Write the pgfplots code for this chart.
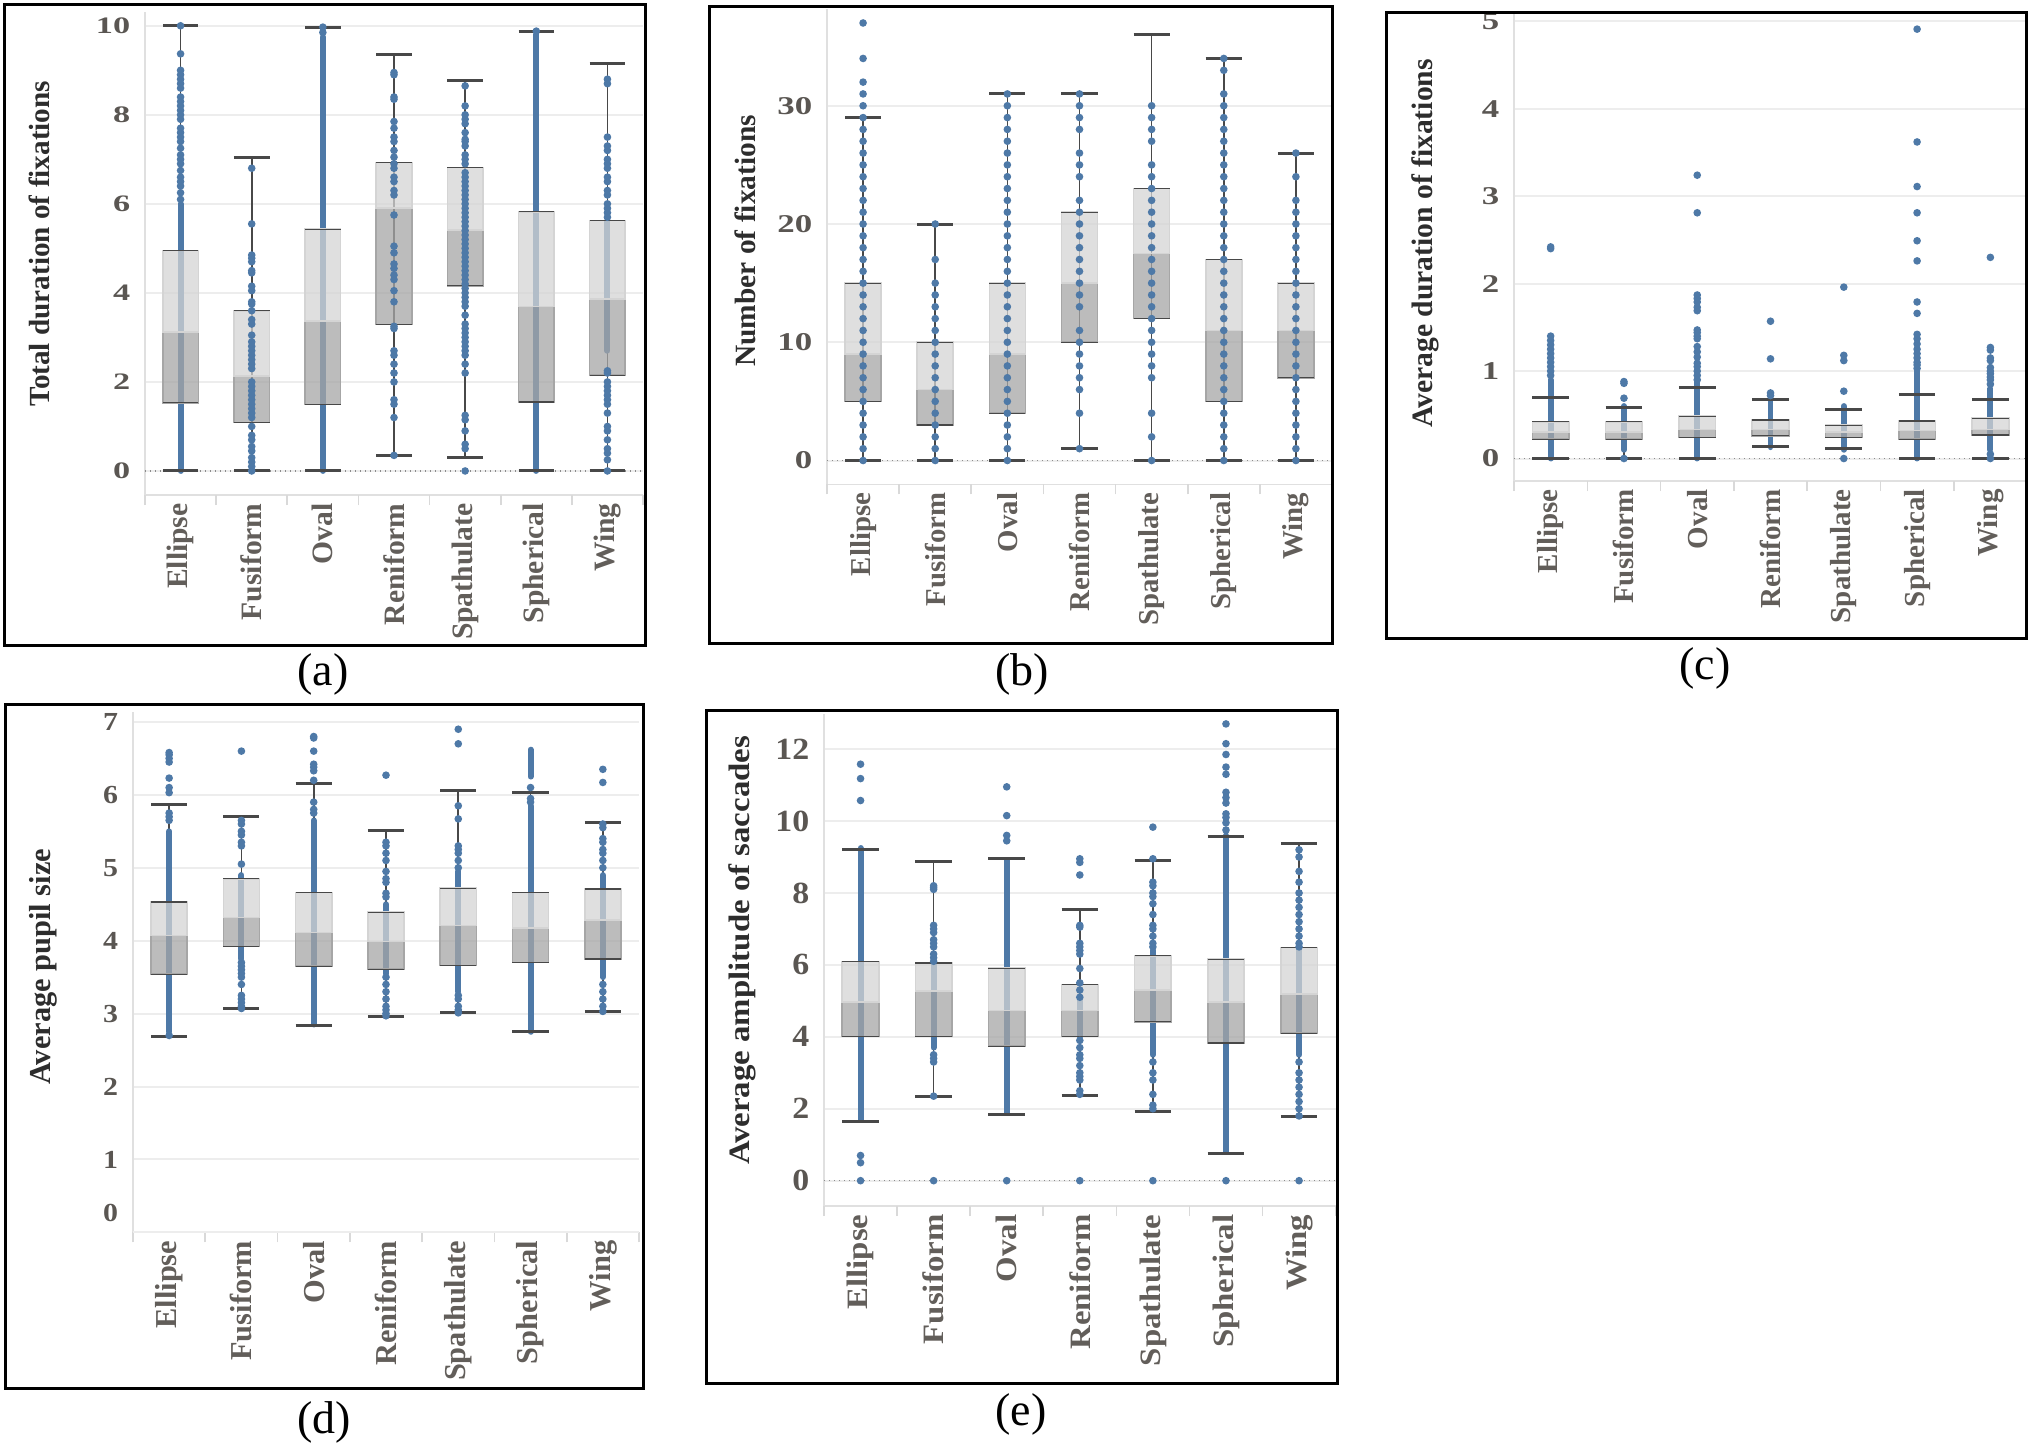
\documentclass[border=0pt]{standalone}
\usepackage{fontspec}
\setmainfont{Liberation Serif}
\newfontfamily\tfA[FakeStretch=1.45]{Liberation Serif}
\newfontfamily\tfB[FakeStretch=1.36]{Liberation Serif}
\newfontfamily\tfD[FakeStretch=1.15]{Liberation Serif}
\newfontfamily\tfE[FakeStretch=1.1]{Liberation Serif}
\newfontfamily\tallserif[FakeStretch=1.11]{Liberation Serif}
\usepackage{pgfplots}
\pgfplotsset{compat=1.18}
\usepgfplotslibrary{statistics}

\definecolor{dotblue}{RGB}{78,121,167}
\definecolor{boxlight}{RGB}{212,212,212}
\definecolor{boxdark}{RGB}{166,166,166}
\definecolor{whisk}{RGB}{72,72,72}
\definecolor{tickgray}{RGB}{90,86,82}
\definecolor{catgray}{RGB}{98,94,90}
\definecolor{labgray}{RGB}{45,45,45}

\newcommand\tickA{\tfA\bfseries\fontsize{5.9pt}{6pt}\selectfont}
\newcommand\tickB{\tfB\bfseries\fontsize{6.4pt}{7pt}\selectfont}
\newcommand\tickD{\tfD\bfseries\fontsize{6.5pt}{7pt}\selectfont}
\newcommand\tickE{\tfE\bfseries\fontsize{7.7pt}{8pt}\selectfont}
\newcommand\catfont{\bfseries\fontsize{7.3pt}{8pt}\selectfont}
\newcommand\catD{\bfseries\fontsize{7.6pt}{8pt}\selectfont}
\newcommand\catE{\tallserif\bfseries\fontsize{7.4pt}{8pt}\selectfont}
\newcommand\labfont{\bfseries\fontsize{7.35pt}{8pt}\selectfont}
\newcommand\labD{\bfseries\fontsize{7.6pt}{8pt}\selectfont}
\newcommand\capfont{\fontsize{11.5pt}{12pt}\selectfont}

\pgfplotsset{
  /pgfplots/boxplot/draw direction=y,
  /pgfplots/boxplot/box extend=0.5,
  % two-tone box, quartile edges and whisker caps
  /pgfplots/boxplot/draw/box/.code={%
    \fill[boxdark, fill opacity=0.75]
      (boxplot box cs:\pgfplotsboxplotvalue{lower quartile},0) rectangle
      (boxplot box cs:\pgfplotsboxplotvalue{median},1);
    \fill[boxlight, fill opacity=0.75]
      (boxplot box cs:\pgfplotsboxplotvalue{median},0) rectangle
      (boxplot box cs:\pgfplotsboxplotvalue{upper quartile},1);
    \draw[whisk, line width=0.3pt]
      (boxplot box cs:\pgfplotsboxplotvalue{lower quartile},0) --
      (boxplot box cs:\pgfplotsboxplotvalue{lower quartile},1)
      (boxplot box cs:\pgfplotsboxplotvalue{upper quartile},0) --
      (boxplot box cs:\pgfplotsboxplotvalue{upper quartile},1);
    \draw[whisk, line width=0.75pt]
      (boxplot box cs:\pgfplotsboxplotvalue{lower whisker},0) --
      (boxplot box cs:\pgfplotsboxplotvalue{lower whisker},1)
      (boxplot box cs:\pgfplotsboxplotvalue{upper whisker},0) --
      (boxplot box cs:\pgfplotsboxplotvalue{upper whisker},1);
  },
  /pgfplots/boxplot/draw/median/.code={},
  /pgfplots/boxplot/draw/lower whisker/.code={},
  /pgfplots/boxplot/draw/upper whisker/.code={},
  % first pass: the whisker stem only, under the dots
  stem/.style={
    /pgfplots/boxplot/draw/box/.code={%
      \draw[whisk, line width=0.4pt]
        (boxplot box cs:\pgfplotsboxplotvalue{lower whisker},0.5) --
        (boxplot box cs:\pgfplotsboxplotvalue{upper whisker},0.5);}},
  panel/.style={
    scale only axis, anchor=south west,
    xmin=-0.5, xmax=6.5,
    xtick={0,...,6},
    xticklabels={Ellipse,Fusiform,Oval,Reniform,Spathulate,Spherical,Wing},
    xticklabel style={rotate=90, anchor=east, inner sep=0pt, font=\catfont, text=catgray},
    xticklabel shift=1.9pt,
    major tick length=0pt,
    extra x ticks={-0.5,0.5,...,6.5},
    extra x tick labels={},
    extra x tick style={major tick length=2.5pt, tick align=outside,
      major tick style={draw=black!15, line width=0.4pt}},
    ymajorgrids, major grid style={draw=black!7, line width=0.5pt},
    axis x line*=bottom, axis y line*=left,
    axis line style={draw=black!12, line width=0.4pt},
    yticklabel style={font=\tickA, text=tickgray, inner sep=0pt},
    yticklabel shift=3.5pt,
    /pgf/number format/assume math mode=true,
    ylabel style={font=\labfont, text=labgray, anchor=center},
  },
  dots/.style={only marks, mark=*, mark size=0.74pt, color=dotblue},
  seg/.style={dotblue, line width=1.48pt, line cap=round, mark=none, unbounded coords=jump},
  zeroline/.style={draw=black!45, line width=0.4pt, dash pattern=on 0.35pt off 0.9pt, mark=none},
}
% one box: draw position, lower whisker, Q1, median, Q3, upper whisker
\newcommand\bx[6]{\addplot[boxplot prepared={draw position=#1, lower whisker=#2,
  lower quartile=#3, median=#4, upper quartile=#5, upper whisker=#6}] coordinates {};}
\newcommand\bxstem[6]{\addplot[stem, boxplot prepared={draw position=#1, lower whisker=#2,
  lower quartile=#3, median=#4, upper quartile=#5, upper whisker=#6}] coordinates {};}

% box statistics per panel
\newcommand\statsA[1]{%
  #1{0}{0}{1.53}{3.12}{4.95}{10.0}
  #1{1}{0}{1.09}{2.13}{3.60}{7.05}
  #1{2}{0}{1.49}{3.37}{5.43}{9.97}
  #1{3}{0.35}{3.29}{5.91}{6.93}{9.35}
  #1{4}{0.31}{4.16}{5.41}{6.82}{8.77}
  #1{5}{0}{1.55}{3.69}{5.82}{9.88}
  #1{6}{0}{2.15}{3.86}{5.63}{9.15}}
\newcommand\statsB[1]{%
  #1{0}{0}{5}{9}{15}{29}
  #1{1}{0}{3}{6}{10}{20}
  #1{2}{0}{4}{9}{15}{31}
  #1{3}{1}{10}{15}{21}{31}
  #1{4}{0}{12}{17.5}{23}{36}
  #1{5}{0}{5}{11}{17}{34}
  #1{6}{0}{7}{11}{15}{26}}
\newcommand\statsC[1]{%
  #1{0}{0}{0.22}{0.30}{0.42}{0.70}
  #1{1}{0}{0.22}{0.30}{0.42}{0.58}
  #1{2}{0}{0.24}{0.33}{0.485}{0.81}
  #1{3}{0.14}{0.26}{0.33}{0.44}{0.68}
  #1{4}{0.12}{0.24}{0.30}{0.38}{0.56}
  #1{5}{0}{0.22}{0.32}{0.43}{0.73}
  #1{6}{0}{0.27}{0.33}{0.46}{0.67}}
\newcommand\statsD[1]{%
  #1{0}{2.68}{3.54}{4.07}{4.53}{5.87}
  #1{1}{3.07}{3.92}{4.32}{4.85}{5.70}
  #1{2}{2.84}{3.65}{4.11}{4.66}{6.15}
  #1{3}{2.96}{3.61}{3.99}{4.39}{5.51}
  #1{4}{3.01}{3.66}{4.21}{4.72}{6.06}
  #1{5}{2.75}{3.70}{4.17}{4.66}{6.03}
  #1{6}{3.03}{3.75}{4.28}{4.71}{5.62}}
\newcommand\statsE[1]{%
  #1{0}{1.64}{4.01}{4.96}{6.09}{9.21}
  #1{1}{2.33}{4.01}{5.28}{6.05}{8.87}
  #1{2}{1.85}{3.74}{4.73}{5.91}{8.95}
  #1{3}{2.38}{4.01}{4.73}{5.46}{7.53}
  #1{4}{1.91}{4.42}{5.31}{6.25}{8.91}
  #1{5}{0.75}{3.83}{4.96}{6.16}{9.57}
  #1{6}{1.79}{4.10}{5.19}{6.48}{9.37}}

\begin{document}
\begin{tikzpicture}
\useasboundingbox (0,0) rectangle (507.5pt,362pt);

% ---------------- (a) total duration of fixations
\begin{axis}[panel, at={(36.25pt,238.25pt)}, width=124.5pt, height=120.75pt,
  ymin=-0.54, ymax=10.31, ytick={0,2,...,10},
  xticklabel style={font=\bfseries\fontsize{7.4pt}{8pt}\selectfont},
  ylabel={Total duration of fixations},
  ylabel style={at={(axis description cs:-0.213,0.52)}, font=\bfseries\fontsize{7.3pt}{8pt}\selectfont}]
\addplot[zeroline] coordinates {(-0.5,0) (6.5,0)};
\statsA\bxstem
\addplot[seg] table[row sep=\\] {x y\\ 0 0\\ 0 6.0\\ 0 nan\\ 2 0\\ 2 9.75\\ 2 nan\\
  5 0\\ 5 9.8\\ 5 nan\\ 6 2.7\\ 6 5.6\\};
\addplot[dots] coordinates {
  (0,6.1)(0,6.25)(0,6.4)(0,6.5)(0,6.6)(0,6.75)(0,6.9)(0,7.0)(0,7.1)(0,7.25)(0,7.4)
  (0,7.5)(0,7.6)(0,7.7)(0,7.9)(0,8.0)(0,8.1)(0,8.2)(0,8.3)(0,8.4)(0,8.6)(0,8.7)
  (0,8.8)(0,8.9)(0,9.0)(0,9.37)(0,10.0)
  (1,0)(1,0.1)(1,0.2)(1,0.3)(1,0.45)(1,0.55)(1,0.7)(1,0.8)(1,1.0)(1,1.2)(1,1.3)
  (1,1.4)(1,1.5)(1,1.6)(1,1.7)(1,1.8)(1,1.9)(1,2.0)(1,2.3)(1,2.4)(1,2.5)(1,2.6)
  (1,2.7)(1,2.8)(1,2.9)(1,3.05)(1,3.3)(1,3.4)(1,3.6)(1,3.75)(1,3.8)(1,4.05)
  (1,4.15)(1,4.45)(1,4.5)(1,4.7)(1,4.78)(1,4.85)(1,5.55)(1,6.8)
  (2,9.85)(2,9.97)
  (3,0.35)(3,1.2)(3,1.5)(3,1.6)(3,2.0)(3,2.2)(3,2.4)(3,2.6)(3,2.7)(3,3.2)(3,3.25)
  (3,3.8)(3,4.05)(3,4.3)(3,4.4)(3,4.55)(3,4.65)(3,4.9)(3,5.05)(3,5.75)(3,6.2)
  (3,6.3)(3,6.5)(3,6.6)(3,6.8)(3,6.9)(3,7.05)(3,7.2)(3,7.4)(3,7.5)(3,7.7)(3,7.85)
  (3,8.35)(3,8.4)(3,8.9)(3,8.95)
  (4,0)(4,0.5)(4,0.6)(4,0.9)(4,1.15)(4,1.25)(4,2.2)(4,2.4)(4,2.6)(4,2.7)(4,2.8)
  (4,2.9)(4,3.0)(4,3.1)(4,3.2)(4,3.3)(4,3.5)(4,3.7)(4,3.8)(4,3.9)(4,4.0)(4,4.1)
  (4,4.2)(4,4.3)(4,4.4)(4,4.5)(4,4.6)(4,4.7)(4,4.8)(4,4.9)(4,5.0)(4,5.1)(4,5.2)
  (4,5.3)(4,5.4)(4,5.5)(4,5.6)(4,5.7)(4,5.8)(4,5.9)(4,6.0)(4,6.1)(4,6.2)(4,6.3)
  (4,6.4)(4,6.5)(4,6.6)(4,6.7)(4,6.9)(4,7.0)(4,7.1)(4,7.3)(4,7.4)(4,7.45)(4,7.6)
  (4,7.8)(4,7.9)(4,8.0)(4,8.2)(4,8.65)
  (5,9.88)
  (6,0)(6,0.25)(6,0.4)(6,0.5)(6,0.7)(6,0.9)(6,1.0)(6,1.3)(6,1.5)(6,1.6)(6,1.7)
  (6,1.8)(6,1.9)(6,2.0)(6,2.2)(6,2.25)(6,5.7)(6,5.8)(6,5.9)(6,6.0)(6,6.2)(6,6.3)
  (6,6.5)(6,6.6)(6,6.8)(6,6.9)(6,7.0)(6,7.2)(6,7.3)(6,7.5)(6,8.7)(6,8.8)
};
\statsA\bx
\end{axis}

% ---------------- (b) number of fixations
\begin{axis}[panel, at={(206.75pt,240.9pt)}, width=126.25pt, height=118.9pt,
  ymin=-2.02, ymax=38.2, ytick={0,10,20,30},
  yticklabel style={font=\tickB},
  xticklabel style={font=\bfseries\fontsize{7.2pt}{8pt}\selectfont},
  ylabel={Number of fixations},
  ylabel style={at={(axis description cs:-0.162,0.512)}}]
\addplot[zeroline] coordinates {(-0.5,0) (6.5,0)};
\statsB\bxstem
\addplot[dots] coordinates {
  (0,0)(0,1)(0,2)(0,3)(0,4)(0,5)(0,6)(0,7)(0,8)(0,9)(0,10)(0,11)(0,12)(0,13)(0,14)
  (0,15)(0,16)(0,17)(0,18)(0,19)(0,20)(0,21)(0,22)(0,23)(0,24)(0,25)(0,26)(0,27)
  (0,28)(0,29)(0,30)(0,31)(0,32)(0,34)(0,37)
  (1,0)(1,1)(1,2)(1,3)(1,4)(1,5)(1,6)(1,7)(1,8)(1,9)(1,10)(1,11)(1,12)(1,13)(1,14)
  (1,15)(1,17)(1,20)
  (2,0)(2,1)(2,2)(2,3)(2,4)(2,5)(2,6)(2,7)(2,8)(2,9)(2,10)(2,11)(2,12)(2,13)(2,14)
  (2,15)(2,16)(2,17)(2,18)(2,19)(2,20)(2,21)(2,22)(2,23)(2,24)(2,25)(2,26)(2,27)
  (2,28)(2,29)(2,30)(2,31)
  (3,1)(3,4)(3,6)(3,7)(3,8)(3,9)(3,10)(3,11)(3,13)(3,14)(3,15)(3,16)(3,17)(3,18)
  (3,19)(3,20)(3,21)(3,22)(3,24)(3,25)(3,26)(3,28)(3,29)(3,30)(3,31)
  (4,0)(4,2)(4,4)(4,7)(4,8)(4,9)(4,10)(4,11)(4,12)(4,13)(4,14)(4,15)(4,16)(4,17)
  (4,18)(4,19)(4,20)(4,21)(4,22)(4,23)(4,24)(4,25)(4,27)(4,28)(4,29)(4,30)
  (5,0)(5,1)(5,2)(5,3)(5,4)(5,5)(5,6)(5,7)(5,8)(5,9)(5,10)(5,11)(5,12)(5,13)(5,14)
  (5,15)(5,16)(5,17)(5,18)(5,19)(5,20)(5,21)(5,22)(5,23)(5,24)(5,25)(5,26)(5,27)
  (5,28)(5,29)(5,30)(5,31)(5,33)(5,34)
  (6,0)(6,1)(6,2)(6,3)(6,4)(6,5)(6,6)(6,7)(6,8)(6,9)(6,10)(6,11)(6,12)(6,13)(6,14)
  (6,15)(6,16)(6,17)(6,18)(6,19)(6,20)(6,21)(6,22)(6,24)(6,26)
};
\statsB\bx
\end{axis}

% ---------------- (c) average duration of fixations
\begin{axis}[panel, at={(378.5pt,241.75pt)}, width=128.25pt, height=116.9pt,
  ymin=-0.257, ymax=5.09, ytick={0,1,...,5},
  yticklabel style={font=\tickB},
  xticklabel style={font=\bfseries\fontsize{7.25pt}{8pt}\selectfont},
  ylabel={Average duration of fixations},
  ylabel style={at={(axis description cs:-0.172,0.508)}, font=\bfseries\fontsize{7.4pt}{8pt}\selectfont}]
\addplot[zeroline] coordinates {(-0.5,0) (6.5,0)};
\statsC\bxstem
\addplot[seg] table[row sep=\\] {x y\\ 0 0\\ 0 0.9\\ 0 nan\\ 1 0.1\\ 1 0.6\\ 1 nan\\
  2 0\\ 2 0.88\\ 2 nan\\ 3 0.13\\ 3 0.66\\ 3 nan\\ 4 0.1\\ 4 0.6\\ 4 nan\\
  5 0\\ 5 1.0\\ 5 nan\\ 6 0.1\\ 6 0.8\\};
\addplot[dots] coordinates {
  (0,0.95)(0,1.0)(0,1.05)(0,1.1)(0,1.15)(0,1.2)(0,1.25)(0,1.3)(0,1.35)(0,1.4)
  (0,2.40)(0,2.42)
  (1,0)(1,0.69)(1,0.86)(1,0.88)
  (2,0.9)(2,0.95)(2,1.0)(2,1.05)(2,1.09)(2,1.16)(2,1.22)(2,1.28)(2,1.37)(2,1.4)
  (2,1.44)(2,1.47)(2,1.69)(2,1.73)(2,1.79)(2,1.83)(2,1.87)(2,2.81)(2,3.24)
  (3,0.72)(3,0.75)(3,1.14)(3,1.57)
  (4,0)(4,0.77)(4,1.12)(4,1.18)(4,1.96)
  (5,1.03)(5,1.07)(5,1.1)(5,1.15)(5,1.2)(5,1.25)(5,1.31)(5,1.37)(5,1.42)(5,1.66)
  (5,1.79)(5,2.26)(5,2.49)(5,2.81)(5,3.11)(5,3.62)(5,4.91)
  (6,0)(6,0.05)(6,0.85)(6,0.9)(6,0.93)(6,0.97)(6,1.0)(6,1.04)(6,1.12)(6,1.15)
  (6,1.24)(6,1.27)(6,2.3)
};
\statsC\bx
\end{axis}

% ---------------- (d) average pupil size
\begin{axis}[panel, at={(33.25pt,53.92pt)}, width=126.5pt, height=130.15pt,
  ymin=0, ymax=7.14, ytick={1,...,7},
  yticklabel style={font=\tickD},
  xticklabel style={font=\catD},
  extra y ticks={0}, extra y tick style={yticklabel style={yshift=4.75pt}},
  ylabel={Average pupil size},
  ylabel style={at={(axis description cs:-0.177,0.51)}, font=\labD}]
\statsD\bxstem
\addplot[seg] table[row sep=\\] {x y\\ 0 2.75\\ 0 5.5\\ 0 nan\\ 1 3.75\\ 1 4.9\\ 1 nan\\
  2 2.85\\ 2 5.65\\ 2 nan\\ 3 3.55\\ 3 4.5\\ 3 nan\\ 4 3.3\\ 4 4.95\\ 4 nan\\
  5 2.75\\ 5 5.85\\ 5 nan\\ 5 6.25\\ 5 6.62\\ 5 nan\\ 6 3.5\\ 6 4.9\\};
\addplot[dots] coordinates {
  (0,2.7)(0,5.65)(0,5.7)(0,5.75)(0,6.03)(0,6.1)(0,6.23)(0,6.45)(0,6.5)(0,6.55)(0,6.58)
  (1,3.07)(1,3.1)(1,3.15)(1,3.2)(1,3.25)(1,3.4)(1,3.5)(1,3.55)(1,3.6)(1,3.65)(1,3.7)
  (1,5.05)(1,5.3)(1,5.35)(1,5.45)(1,5.5)(1,5.6)(1,5.65)(1,6.6)
  (2,5.75)(2,5.8)(2,5.9)(2,6.2)(2,6.33)(2,6.38)(2,6.42)(2,6.6)(2,6.78)(2,6.8)
  (3,2.97)(3,3.0)(3,3.05)(3,3.1)(3,3.2)(3,3.3)(3,3.4)(3,3.5)(3,4.6)(3,4.65)(3,4.8)
  (3,4.85)(3,4.95)(3,5.1)(3,5.2)(3,5.3)(3,5.35)(3,6.27)
  (4,3.01)(4,3.05)(4,3.1)(4,3.2)(4,3.25)(4,5.0)(4,5.1)(4,5.2)(4,5.25)(4,5.3)(4,5.67)
  (4,5.85)(4,6.7)(4,6.9)
  (5,5.9)(5,5.95)(5,6.1)
  (6,3.03)(6,3.1)(6,3.2)(6,3.3)(6,3.4)(6,5.0)(6,5.1)(6,5.2)(6,5.25)(6,5.35)(6,5.4)
  (6,5.55)(6,5.6)(6,6.17)(6,6.35)
};
\statsD\bx
\end{axis}

% ---------------- (e) average amplitude of saccades
\begin{axis}[panel, at={(206pt,60.45pt)}, width=127.9pt, height=123pt,
  ymin=-0.71, ymax=12.97, ytick={0,2,...,12},
  yticklabel style={font=\tickE},
  xticklabel style={font=\catE},
  ylabel={Average amplitude of saccades},
  ylabel style={at={(axis description cs:-0.159,0.52)}, font=\catE}]
\addplot[zeroline] coordinates {(-0.5,0) (6.5,0)};
\statsE\bxstem
\addplot[seg] table[row sep=\\] {x y\\ 0 1.7\\ 0 9.25\\ 0 nan\\ 1 3.7\\ 1 6.0\\ 1 nan\\
  2 1.9\\ 2 8.9\\ 2 nan\\ 3 4.0\\ 3 5.0\\ 3 nan\\ 4 3.5\\ 4 6.4\\ 4 nan\\
  5 0.8\\ 5 9.6\\ 5 nan\\ 6 3.5\\ 6 6.4\\};
\addplot[dots] coordinates {
  (0,0)(0,0.5)(0,0.7)(0,10.57)(0,11.18)(0,11.58)
  (1,0)(1,2.35)(1,3.3)(1,3.4)(1,3.5)(1,6.1)(1,6.2)(1,6.3)(1,6.5)(1,6.6)(1,6.7)(1,6.9)
  (1,7.0)(1,7.1)(1,8.1)(1,8.15)(1,8.2)
  (2,0)(2,9.45)(2,9.6)(2,10.15)(2,10.95)
  (3,0)(3,2.4)(3,2.5)(3,2.8)(3,2.9)(3,3.0)(3,3.2)(3,3.4)(3,3.5)(3,3.7)(3,3.9)(3,5.1)
  (3,5.3)(3,5.5)(3,5.9)(3,6.3)(3,6.4)(3,6.5)(3,6.6)(3,7.05)(3,7.1)(3,8.5)(3,8.85)(3,8.95)
  (4,0)(4,2.0)(4,2.1)(4,2.4)(4,2.8)(4,3.0)(4,3.3)(4,6.5)(4,6.6)(4,6.8)(4,7.0)(4,7.1)
  (4,7.4)(4,7.7)(4,7.9)(4,8.0)(4,8.2)(4,8.3)(4,8.95)(4,9.83)
  (5,0)(5,9.75)(5,9.95)(5,10.1)(5,10.2)(5,10.5)(5,10.65)(5,10.8)(5,11.3)(5,11.5)
  (5,11.85)(5,12.15)(5,12.7)
  (6,0)(6,1.8)(6,2.0)(6,2.2)(6,2.4)(6,2.6)(6,2.8)(6,3.0)(6,3.3)(6,6.5)(6,6.6)(6,6.8)
  (6,7.0)(6,7.2)(6,7.4)(6,7.6)(6,7.8)(6,8.0)(6,8.3)(6,8.6)(6,9.0)(6,9.2)
};
\statsE\bx
\end{axis}

% panel frames and captions
\draw[line width=0.75pt] (1.125pt,200.75pt) rectangle (161.25pt,360.875pt);
\draw[line width=0.75pt] (177.4pt,201.25pt) rectangle (333pt,360.4pt);
\draw[line width=0.75pt] (346.5pt,202.5pt) rectangle (506.5pt,358.9pt);
\draw[line width=0.75pt] (1.35pt,15pt) rectangle (160.75pt,185.9pt);
\draw[line width=0.75pt] (176.6pt,16.1pt) rectangle (334.25pt,184.5pt);
\node[font=\capfont] at (80.7pt,193.3pt) {(a)};
\node[font=\capfont] at (255.5pt,193.3pt) {(b)};
\node[font=\capfont] at (426.25pt,195pt) {(c)};
\node[font=\capfont] at (81pt,6.5pt) {(d)};
\node[font=\capfont] at (255.25pt,8.3pt) {(e)};
\end{tikzpicture}
\end{document}
